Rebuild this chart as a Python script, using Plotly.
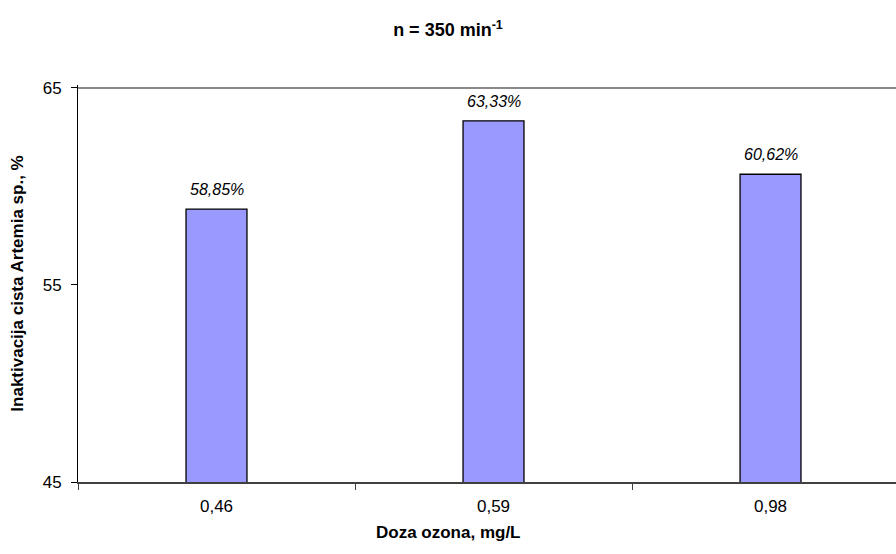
import plotly.graph_objects as go

categories = ["0,46", "0,59", "0,98"]
values = [58.85, 63.33, 60.62]
labels = ["58,85%", "63,33%", "60,62%"]
y_ticks = [45, 55, 65]
y_grid = [65]

FONT = "Arial, Liberation Sans, sans-serif"
Y_RANGE = [45, 65.15]

fig = go.Figure()
fig.add_trace(go.Bar(
    x=categories, y=values, width=0.22,
    marker=dict(color="#9999FF", line=dict(color="#000000", width=1.3)),
    hoverinfo="skip",
))

for c, v, t in zip(categories, values, labels):
    fig.add_annotation(x=c, y=v, text="<i>" + t + "</i>", showarrow=False, yanchor="bottom",
                       yshift=9, font=dict(family=FONT, size=16, color="#000000"))

fig.add_annotation(
    text="<b>Doza ozona, mg/L</b>", xref="paper", yref="paper",
    x=(448 - 78) / 818, y=-(532 - 482) / 397, xanchor="center", yanchor="middle",
    showarrow=False, font=dict(family=FONT, size=17, color="#000000"))

fig.update_layout(
    width=896, height=554,
    paper_bgcolor="white", plot_bgcolor="white",
    margin=dict(l=78, r=0, t=85, b=72, autoexpand=False),
    showlegend=False,
    font=dict(family=FONT, size=17, color="#000000"),
    title=dict(text="<b>n = 350 min<sup>-1</sup></b>", x=0.5, xref="container",
               xanchor="center", y=1 - 30 / 554, yref="container", yanchor="middle",
               font=dict(size=18)),
    xaxis=dict(
        type="category", range=[-0.5, 2.453], tickson="boundaries",
        ticks="outside", ticklen=6, tickcolor="#404040", tickwidth=1,
        showline=True, linecolor="#404040", linewidth=2,
        showgrid=False, zeroline=False, fixedrange=True,
        tickfont=dict(size=17), ticklabelstandoff=8,
    ),
    yaxis=dict(
        range=Y_RANGE, tickmode="array", tickvals=y_ticks, ticks="outside", ticklen=6,
        tickcolor="#000000", showline=True, linecolor="#000000", linewidth=1,
        zeroline=False, fixedrange=True, showgrid=False,
        minor=dict(tickmode="array", tickvals=y_grid, showgrid=True,
                   gridcolor="#8a8a8a", gridwidth=1.5, ticks=""),
        tickfont=dict(size=17), ticklabelstandoff=6,
        title=dict(text="<b>Inaktivacija cista Artemia sp., %</b>", standoff=14,
                   font=dict(size=17)),
        automargin=False,
    ),
)

fig.write_html("out.html", config={"displayModeBar": False},
               post_script="document.body.style.margin='0px';document.body.style.overflow='hidden';")
